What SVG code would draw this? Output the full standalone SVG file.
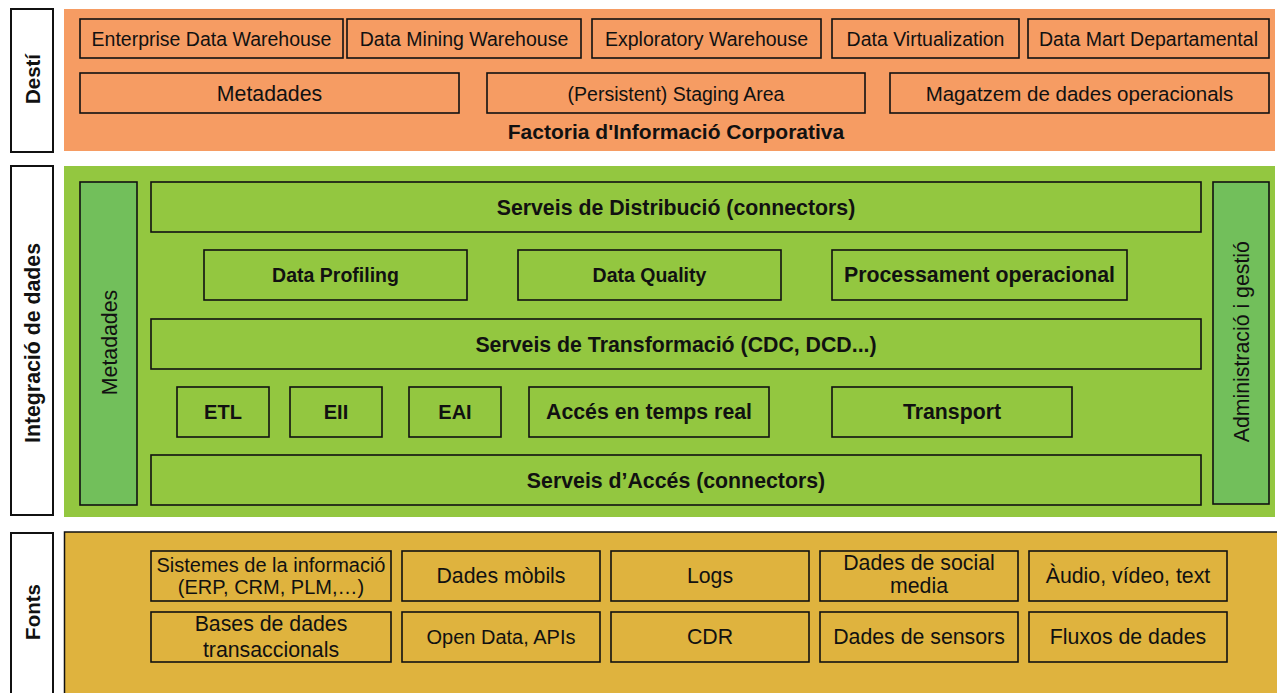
<svg xmlns="http://www.w3.org/2000/svg" width="1277" height="693" viewBox="0 0 1277 693">
<style>
text{font-family:"Liberation Sans",Arial,Helvetica,sans-serif;fill:#111;text-anchor:middle}
.b{font-weight:bold}
.lab{fill:#fff;stroke:#111;stroke-width:2}
.box{stroke:#111;stroke-width:1.6}
.or{fill:#F69C63}
.gr{fill:#93C740}
.dg{fill:#72BF5B}
.ye{fill:#DFB33E}
.t195{font-size:19.5px}
.t20{font-size:20px}
.t21{font-size:21.3px}
</style>
<rect width="1277" height="693" fill="#fff"/>

<!-- Section labels -->
<g id="lab-desti">
<rect class="lab" x="11" y="9" width="42" height="143"/>
<text class="b" font-size="20.5" transform="translate(40,79) rotate(-90)">Destí</text>
</g>
<g id="lab-integracio">
<rect class="lab" x="11" y="166" width="42" height="349"/>
<text class="b t21" transform="translate(40,343) rotate(-90)">Integració de dades</text>
</g>
<g id="lab-fonts">
<rect class="lab" x="11" y="533" width="42" height="170"/>
<text class="b" font-size="20.5" transform="translate(40,612) rotate(-90)">Fonts</text>
</g>

<!-- Desti panel -->
<g id="panel-desti">
<rect class="or" x="64" y="9" width="1211" height="142"/>
<text class="b" font-size="21" x="676" y="139">Factoria d'Informació Corporativa</text>
</g>
<g id="n-edw"><rect class="box or" x="80" y="19" width="263" height="39"/><text class="t195" x="211.5" y="46">Enterprise Data Warehouse</text></g>
<g id="n-dmw"><rect class="box or" x="347" y="19" width="234" height="39"/><text class="t195" x="464" y="46">Data Mining Warehouse</text></g>
<g id="n-exw"><rect class="box or" x="592" y="19" width="229" height="39"/><text class="t195" x="706.5" y="46">Exploratory Warehouse</text></g>
<g id="n-dv"><rect class="box or" x="832" y="19" width="187" height="39"/><text class="t195" x="925.5" y="46">Data Virtualization</text></g>
<g id="n-dmd"><rect class="box or" x="1028" y="19" width="241" height="39"/><text class="t195" x="1148.5" y="46">Data Mart Departamental</text></g>
<g id="n-meta1"><rect class="box or" x="80" y="73" width="379" height="40"/><text class="t21" x="269.5" y="101">Metadades</text></g>
<g id="n-staging"><rect class="box or" x="487" y="73" width="378" height="40"/><text class="t195" x="676" y="100.5">(Persistent) Staging Area</text></g>
<g id="n-ods"><rect class="box or" x="890" y="73" width="379" height="40"/><text font-size="20.5" x="1079.5" y="100.5">Magatzem de dades operacionals</text></g>

<!-- Integracio panel -->
<g id="panel-integracio">
<rect class="gr" x="64" y="166" width="1211" height="351"/>
</g>
<g id="n-meta2"><rect class="box dg" x="80" y="182" width="57" height="323"/><text class="t21" transform="translate(116.5,342.5) rotate(-90)">Metadades</text></g>
<g id="n-admin"><rect class="box dg" x="1213" y="182" width="56" height="322"/><text class="t21" transform="translate(1249,341.7) rotate(-90)">Administració i gestió</text></g>
<g id="n-distrib"><rect class="box gr" x="151" y="182" width="1050" height="50"/><text class="b t21" x="676" y="215.3">Serveis de Distribució (connectors)</text></g>
<g id="n-profiling"><rect class="box gr" x="204" y="250" width="263" height="50"/><text class="b t195" x="335.5" y="282.3">Data Profiling</text></g>
<g id="n-quality"><rect class="box gr" x="518" y="250" width="263" height="50"/><text class="b t195" x="649.5" y="282.3">Data Quality</text></g>
<g id="n-proc"><rect class="box gr" x="832" y="250" width="295" height="50"/><text class="b t21" x="979.5" y="282.3">Processament operacional</text></g>
<g id="n-transf"><rect class="box gr" x="151" y="319" width="1050" height="50"/><text class="b t21" x="676" y="352.3">Serveis de Transformació (CDC, DCD...)</text></g>
<g id="n-etl"><rect class="box gr" x="177" y="387" width="92" height="50"/><text class="b t20" x="223" y="419.3">ETL</text></g>
<g id="n-eii"><rect class="box gr" x="290" y="387" width="92" height="50"/><text class="b t20" x="336" y="419.3">EII</text></g>
<g id="n-eai"><rect class="box gr" x="409" y="387" width="92" height="50"/><text class="b t20" x="455" y="419.3">EAI</text></g>
<g id="n-rt"><rect class="box gr" x="529" y="387" width="240" height="50"/><text class="b t21" x="649" y="419.3">Accés en temps real</text></g>
<g id="n-transport"><rect class="box gr" x="832" y="387" width="240" height="50"/><text class="b t21" x="952" y="419.3">Transport</text></g>
<g id="n-acces"><rect class="box gr" x="151" y="455" width="1050" height="50"/><text class="b t21" x="676" y="488.3">Serveis d’Accés (connectors)</text></g>

<!-- Fonts panel -->
<g id="panel-fonts">
<rect class="ye" x="64.5" y="532" width="1230" height="200" stroke="#111" stroke-width="1.5"/>
</g>
<g id="n-si"><rect class="box ye" x="151" y="551" width="240" height="50"/><text class="t20" x="271" y="572.3">Sistemes de la informació</text><text class="t20" x="271" y="594">(ERP, CRM, PLM,…)</text></g>
<g id="n-mob"><rect class="box ye" x="402" y="551" width="198" height="50"/><text class="t21" x="501" y="582.7">Dades mòbils</text></g>
<g id="n-logs"><rect class="box ye" x="611" y="551" width="198" height="50"/><text class="t21" x="710" y="582.7">Logs</text></g>
<g id="n-social"><rect class="box ye" x="820" y="551" width="198" height="50"/><text class="t21" x="919" y="570">Dades de social</text><text class="t21" x="919" y="593.3">media</text></g>
<g id="n-av"><rect class="box ye" x="1029" y="551" width="198" height="50"/><text class="t21" x="1128" y="583.3">Àudio, vídeo, text</text></g>
<g id="n-bd"><rect class="box ye" x="151" y="612" width="240" height="50"/><text class="t21" x="271" y="631">Bases de dades</text><text class="t21" x="271" y="656.7">transaccionals</text></g>
<g id="n-open"><rect class="box ye" x="402" y="612" width="198" height="50"/><text class="t20" x="501" y="644">Open Data, APIs</text></g>
<g id="n-cdr"><rect class="box ye" x="611" y="612" width="198" height="50"/><text class="t21" x="710" y="644">CDR</text></g>
<g id="n-sens"><rect class="box ye" x="820" y="612" width="198" height="50"/><text class="t21" x="919" y="644">Dades de sensors</text></g>
<g id="n-flux"><rect class="box ye" x="1029" y="612" width="198" height="50"/><text class="t21" x="1128" y="644">Fluxos de dades</text></g>

<g id="connectors"></g>
</svg>
